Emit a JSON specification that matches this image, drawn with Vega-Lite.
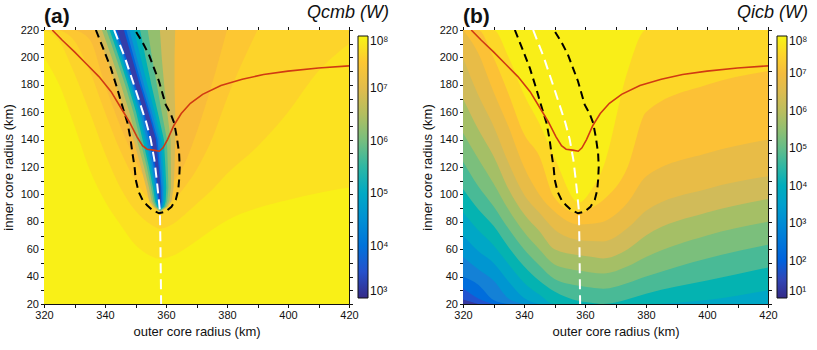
{
"$schema":"https://vega.github.io/schema/vega-lite/v6.json",
"background":"white",
"padding":{"left":2,"top":4,"right":0,"bottom":0},
"spacing":32,
"config":{
 "font":"Liberation Sans",
 "view":{"stroke":null},
 "axis":{"domainColor":"#111","tickColor":"#111","labelColor":"#111","titleColor":"#111","labelFontSize":11,"titleFontSize":13,"titleFontWeight":"normal","grid":false,"tickSize":3.5,"labelPadding":2,"labelFlush":false,"domainWidth":1,"tickWidth":1,"titlePadding":5},
 "legend":{"orient":"none","direction":"vertical","gradientLength":262,"gradientThickness":10,"gradientStrokeColor":"#111","gradientStrokeWidth":1,"labelFontSize":12,"labelOffset":5,"labelColor":"#111","labelBaseline":"middle","titleFontSize":18,"titleFontWeight":"normal","titleFontStyle":"italic","titleColor":"#111","titleAnchor":"end","titleAlign":"right","titlePadding":14,"titleLimit":200},
 "title":{"anchor":"start","fontSize":21,"fontWeight":"bold","offset":-23,"frame":"group","color":"#111"}
},
"datasets":{
 "red":[{"x":322.7,"y":220},{"x":326,"y":212.5},{"x":330,"y":204},{"x":334,"y":195},{"x":338,"y":186},{"x":342,"y":175},{"x":345,"y":164},{"x":348,"y":153},{"x":350.5,"y":142},{"x":352.3,"y":135.5},{"x":353.8,"y":133},{"x":356,"y":132.3},{"x":357.8,"y":131.5},{"x":359,"y":134},{"x":360.5,"y":140},{"x":362.5,"y":150},{"x":365,"y":159},{"x":368,"y":166.5},{"x":372,"y":173},{"x":378,"y":179.5},{"x":385,"y":184},{"x":392,"y":187.5},{"x":400,"y":190},{"x":410,"y":192.3},{"x":420,"y":193.8}],
 "white":[{"i":0,"x":343,"y":220},{"i":1,"x":346.5,"y":200},{"i":2,"x":349.5,"y":180},{"i":3,"x":352,"y":163},{"i":4,"x":353.6,"y":152},{"i":5,"x":355,"y":140},{"i":6,"x":356.2,"y":125},{"i":7,"x":357,"y":110},{"i":8,"x":357.6,"y":97},{"i":9,"x":358,"y":88},{"i":10,"x":358.2,"y":60},{"i":11,"x":358.4,"y":20}],
 "ell":[{"i":0,"x":337,"y":220},{"i":1,"x":339.5,"y":206},{"i":2,"x":341.9,"y":192.3},{"i":3,"x":343.9,"y":178},{"i":4,"x":345.7,"y":164.3},{"i":5,"x":347.4,"y":152},{"i":6,"x":348.4,"y":140},{"i":7,"x":349,"y":130},{"i":8,"x":349.7,"y":120},{"i":9,"x":350.1,"y":110.5},{"i":10,"x":351,"y":102},{"i":11,"x":352.3,"y":96},{"i":12,"x":353.8,"y":92},{"i":13,"x":355.5,"y":88.6},{"i":14,"x":357.7,"y":86.2},{"i":15,"x":359.9,"y":87.4},{"i":16,"x":361.8,"y":91},{"i":17,"x":363.2,"y":96},{"i":18,"x":364,"y":103},{"i":19,"x":364.3,"y":110.5},{"i":20,"x":364.5,"y":120},{"i":21,"x":364.3,"y":130},{"i":22,"x":363.6,"y":141},{"i":23,"x":362.7,"y":152},{"i":24,"x":361.5,"y":159},{"i":25,"x":359.9,"y":165.5},{"i":26,"x":358.8,"y":174},{"i":27,"x":357.7,"y":182.6},{"i":28,"x":356.1,"y":192},{"i":29,"x":354.4,"y":202},{"i":30,"x":352.3,"y":211},{"i":31,"x":350.1,"y":219},{"i":32,"x":349.8,"y":220}],
 "bgA":[
  {"x":320,"y":20,"q":7.95,"s":"a0"},{"x":420,"y":20,"q":7.95,"s":"a0"},
  {"x":320,"y":200,"q":7.8,"s":"a1"},{"x":325,"y":180,"q":7.8,"s":"a1"},{"x":330,"y":150,"q":7.8,"s":"a1"},{"x":335,"y":118,"q":7.8,"s":"a1"},{"x":340,"y":95,"q":7.8,"s":"a1"},{"x":345,"y":78,"q":7.8,"s":"a1"},{"x":350,"y":63,"q":7.8,"s":"a1"},{"x":355,"y":55,"q":7.8,"s":"a1"},{"x":358,"y":53,"q":7.8,"s":"a1"},{"x":362,"y":55,"q":7.8,"s":"a1"},{"x":366,"y":60,"q":7.8,"s":"a1"},{"x":370,"y":66,"q":7.8,"s":"a1"},{"x":375,"y":74,"q":7.8,"s":"a1"},{"x":380,"y":81,"q":7.8,"s":"a1"},{"x":390,"y":90,"q":7.8,"s":"a1"},{"x":400,"y":96,"q":7.8,"s":"a1"},{"x":410,"y":101,"q":7.8,"s":"a1"},{"x":420,"y":105,"q":7.8,"s":"a1"},
  {"x":320,"y":220,"q":7.65,"s":"a2"},{"x":325,"y":212,"q":7.65,"s":"a2"},{"x":330,"y":188,"q":7.65,"s":"a2"},{"x":335,"y":160,"q":7.65,"s":"a2"},{"x":340,"y":130,"q":7.65,"s":"a2"},{"x":345,"y":105,"q":7.65,"s":"a2"},{"x":350,"y":88,"q":7.65,"s":"a2"},{"x":355,"y":78,"q":7.65,"s":"a2"},{"x":358,"y":75,"q":7.65,"s":"a2"},{"x":362,"y":78,"q":7.65,"s":"a2"},{"x":366,"y":85,"q":7.65,"s":"a2"},{"x":370,"y":93,"q":7.65,"s":"a2"},{"x":375,"y":103,"q":7.65,"s":"a2"},{"x":380,"y":115,"q":7.65,"s":"a2"},{"x":390,"y":135,"q":7.65,"s":"a2"},{"x":400,"y":160,"q":7.65,"s":"a2"},{"x":410,"y":190,"q":7.65,"s":"a2"},{"x":420,"y":210,"q":7.65,"s":"a2"},
  {"x":325,"y":220,"q":7.5,"s":"a3"},{"x":330,"y":212,"q":7.5,"s":"a3"},{"x":335,"y":190,"q":7.5,"s":"a3"},{"x":340,"y":160,"q":7.5,"s":"a3"},{"x":345,"y":132,"q":7.5,"s":"a3"},{"x":350,"y":110,"q":7.5,"s":"a3"},{"x":355,"y":95,"q":7.5,"s":"a3"},{"x":358,"y":90,"q":7.5,"s":"a3"},{"x":362,"y":95,"q":7.5,"s":"a3"},{"x":366,"y":105,"q":7.5,"s":"a3"},{"x":370,"y":118,"q":7.5,"s":"a3"},{"x":375,"y":140,"q":7.5,"s":"a3"},{"x":380,"y":170,"q":7.5,"s":"a3"},{"x":390,"y":220,"q":7.5,"s":"a3"},
  {"x":330,"y":220,"q":7.35,"s":"a4"},{"x":335,"y":213,"q":7.35,"s":"a4"},{"x":340,"y":180,"q":7.35,"s":"a4"},{"x":345,"y":150,"q":7.35,"s":"a4"},{"x":350,"y":125,"q":7.35,"s":"a4"},{"x":355,"y":105,"q":7.35,"s":"a4"},{"x":358,"y":100,"q":7.35,"s":"a4"},{"x":362,"y":108,"q":7.35,"s":"a4"},{"x":366,"y":122,"q":7.35,"s":"a4"},{"x":370,"y":145,"q":7.35,"s":"a4"},{"x":375,"y":180,"q":7.35,"s":"a4"},{"x":380,"y":220,"q":7.35,"s":"a4"}
 ],
 "stripeA":[
  {"y":87,"xl":358.05,"xr":358.05,"q":6.75,"s":"t1"},{"y":91,"xl":355.8,"xr":360.6,"q":6.75,"s":"t1"},{"y":95,"xl":354.5,"xr":361.8,"q":6.75,"s":"t1"},{"y":105,"xl":353.5,"xr":362.5,"q":6.75,"s":"t1"},{"y":120,"xl":351.8,"xr":362.8,"q":6.75,"s":"t1"},{"y":140,"xl":349.3,"xr":363,"q":6.75,"s":"t1"},{"y":160,"xl":346.5,"xr":363,"q":6.75,"s":"t1"},{"y":180,"xl":343.5,"xr":362.8,"q":6.75,"s":"t1"},{"y":200,"xl":340.5,"xr":362.8,"q":6.75,"s":"t1"},{"y":220,"xl":337.3,"xr":363,"q":6.75,"s":"t1"},
  {"y":87.7,"xl":358.1,"xr":358.1,"q":6.25,"s":"t2"},{"y":91,"xl":356.3,"xr":360.2,"q":6.25,"s":"t2"},{"y":95,"xl":355.3,"xr":361.1,"q":6.25,"s":"t2"},{"y":105,"xl":354.4,"xr":361.6,"q":6.25,"s":"t2"},{"y":120,"xl":352.8,"xr":361.6,"q":6.25,"s":"t2"},{"y":140,"xl":350.4,"xr":361.5,"q":6.25,"s":"t2"},{"y":160,"xl":348,"xr":360.4,"q":6.25,"s":"t2"},{"y":180,"xl":345.2,"xr":359.4,"q":6.25,"s":"t2"},{"y":200,"xl":342.2,"xr":358.6,"q":6.25,"s":"t2"},{"y":220,"xl":339,"xr":358,"q":6.25,"s":"t2"},
  {"y":88.3,"xl":358.1,"xr":358.1,"q":5.75,"s":"t3"},{"y":91,"xl":356.7,"xr":359.8,"q":5.75,"s":"t3"},{"y":95,"xl":355.9,"xr":360.4,"q":5.75,"s":"t3"},{"y":105,"xl":355.1,"xr":360.8,"q":5.75,"s":"t3"},{"y":120,"xl":353.7,"xr":360.6,"q":5.75,"s":"t3"},{"y":140,"xl":351.5,"xr":360.3,"q":5.75,"s":"t3"},{"y":160,"xl":349.3,"xr":358.6,"q":5.75,"s":"t3"},{"y":180,"xl":346.6,"xr":357,"q":5.75,"s":"t3"},{"y":200,"xl":343.6,"xr":355.4,"q":5.75,"s":"t3"},{"y":220,"xl":340.5,"xr":354,"q":5.75,"s":"t3"},
  {"y":88.8,"xl":358.1,"xr":358.1,"q":5.25,"s":"t4"},{"y":91,"xl":357.1,"xr":359.4,"q":5.25,"s":"t4"},{"y":95,"xl":356.4,"xr":359.9,"q":5.25,"s":"t4"},{"y":105,"xl":355.7,"xr":360.1,"q":5.25,"s":"t4"},{"y":120,"xl":354.4,"xr":359.8,"q":5.25,"s":"t4"},{"y":140,"xl":352.3,"xr":359.3,"q":5.25,"s":"t4"},{"y":160,"xl":350.2,"xr":357.3,"q":5.25,"s":"t4"},{"y":180,"xl":347.5,"xr":355.2,"q":5.25,"s":"t4"},{"y":200,"xl":344.6,"xr":353.3,"q":5.25,"s":"t4"},{"y":220,"xl":341.5,"xr":351.5,"q":5.25,"s":"t4"},
  {"y":89.3,"xl":358.1,"xr":358.1,"q":4.75,"s":"t5"},{"y":91,"xl":357.4,"xr":359,"q":4.75,"s":"t5"},{"y":95,"xl":356.8,"xr":359.4,"q":4.75,"s":"t5"},{"y":105,"xl":356.2,"xr":359.5,"q":4.75,"s":"t5"},{"y":120,"xl":355,"xr":359.1,"q":4.75,"s":"t5"},{"y":140,"xl":353,"xr":358.5,"q":4.75,"s":"t5"},{"y":160,"xl":351,"xr":356.3,"q":4.75,"s":"t5"},{"y":180,"xl":348.2,"xr":353.9,"q":4.75,"s":"t5"},{"y":200,"xl":345.3,"xr":351.7,"q":4.75,"s":"t5"},{"y":220,"xl":342.3,"xr":349.5,"q":4.75,"s":"t5"},
  {"y":89.8,"xl":358.1,"xr":358.1,"q":4.25,"s":"t6"},{"y":91,"xl":357.6,"xr":358.7,"q":4.25,"s":"t6"},{"y":95,"xl":357.2,"xr":359,"q":4.25,"s":"t6"},{"y":105,"xl":356.6,"xr":359,"q":4.25,"s":"t6"},{"y":120,"xl":355.5,"xr":358.5,"q":4.25,"s":"t6"},{"y":140,"xl":353.7,"xr":357.8,"q":4.25,"s":"t6"},{"y":160,"xl":351.7,"xr":355.4,"q":4.25,"s":"t6"},{"y":180,"xl":348.8,"xr":352.8,"q":4.25,"s":"t6"},{"y":200,"xl":345.9,"xr":350.4,"q":4.25,"s":"t6"},{"y":220,"xl":342.9,"xr":348,"q":4.25,"s":"t6"},
  {"y":90.3,"xl":358.1,"xr":358.1,"q":3.75,"s":"t7"},{"y":91,"xl":357.8,"xr":358.4,"q":3.75,"s":"t7"},{"y":95,"xl":357.5,"xr":358.6,"q":3.75,"s":"t7"},{"y":105,"xl":357,"xr":358.5,"q":3.75,"s":"t7"},{"y":120,"xl":356,"xr":358,"q":3.75,"s":"t7"},{"y":140,"xl":354.4,"xr":357.2,"q":3.75,"s":"t7"},{"y":160,"xl":352.3,"xr":354.7,"q":3.75,"s":"t7"},{"y":180,"xl":349.3,"xr":352,"q":3.75,"s":"t7"},{"y":200,"xl":346.4,"xr":349.5,"q":3.75,"s":"t7"},{"y":220,"xl":343.4,"xr":347,"q":3.75,"s":"t7"},
  {"y":92,"xl":358.05,"xr":358.05,"q":3.25,"s":"t8"},{"y":95,"xl":357.8,"xr":358.3,"q":3.25,"s":"t8"},{"y":105,"xl":357.3,"xr":358.2,"q":3.25,"s":"t8"},{"y":120,"xl":356.5,"xr":357.6,"q":3.25,"s":"t8"},{"y":140,"xl":355.1,"xr":356.7,"q":3.25,"s":"t8"},{"y":160,"xl":352.8,"xr":354.2,"q":3.25,"s":"t8"},{"y":180,"xl":349.8,"xr":351.4,"q":3.25,"s":"t8"},{"y":200,"xl":346.9,"xr":348.8,"q":3.25,"s":"t8"},{"y":220,"xl":343.9,"xr":346.2,"q":3.25,"s":"t8"}
 ],
 "bgB":[
  {"x":320,"y":220,"q":7.9,"s":"b00"},{"x":420,"y":220,"q":7.9,"s":"b00"},
  {"x":320,"y":220,"q":7.55,"s":"b01"},{"x":325,"y":220,"q":7.55,"s":"b01"},{"x":330,"y":220,"q":7.55,"s":"b01"},{"x":335,"y":200,"q":7.55,"s":"b01"},{"x":340,"y":173,"q":7.55,"s":"b01"},{"x":345,"y":152,"q":7.55,"s":"b01"},{"x":350,"y":127,"q":7.55,"s":"b01"},{"x":358,"y":94,"q":7.55,"s":"b01"},{"x":362,"y":103,"q":7.55,"s":"b01"},{"x":366,"y":120,"q":7.55,"s":"b01"},{"x":374,"y":190,"q":7.55,"s":"b01"},{"x":380,"y":220,"q":7.55,"s":"b01"},{"x":400,"y":220,"q":7.55,"s":"b01"},{"x":420,"y":220,"q":7.55,"s":"b01"},
  {"x":320,"y":220,"q":7.2,"s":"b02"},{"x":325,"y":220,"q":7.2,"s":"b02"},{"x":330,"y":200,"q":7.2,"s":"b02"},{"x":335,"y":173,"q":7.2,"s":"b02"},{"x":340,"y":144,"q":7.2,"s":"b02"},{"x":345,"y":128,"q":7.2,"s":"b02"},{"x":350,"y":97.5,"q":7.2,"s":"b02"},{"x":358,"y":86,"q":7.2,"s":"b02"},{"x":362,"y":90,"q":7.2,"s":"b02"},{"x":366,"y":96,"q":7.2,"s":"b02"},{"x":374,"y":120,"q":7.2,"s":"b02"},{"x":380,"y":160,"q":7.2,"s":"b02"},{"x":400,"y":180,"q":7.2,"s":"b02"},{"x":420,"y":190,"q":7.2,"s":"b02"},
  {"x":320,"y":220,"q":6.75,"s":"b03"},{"x":325,"y":203,"q":6.75,"s":"b03"},{"x":330,"y":175,"q":6.75,"s":"b03"},{"x":335,"y":149,"q":6.75,"s":"b03"},{"x":340,"y":120,"q":6.75,"s":"b03"},{"x":345,"y":100,"q":6.75,"s":"b03"},{"x":350,"y":87.5,"q":6.75,"s":"b03"},{"x":358,"y":78,"q":6.75,"s":"b03"},{"x":362,"y":78.5,"q":6.75,"s":"b03"},{"x":366,"y":80,"q":6.75,"s":"b03"},{"x":374,"y":94,"q":6.75,"s":"b03"},{"x":380,"y":113,"q":6.75,"s":"b03"},{"x":400,"y":130,"q":6.75,"s":"b03"},{"x":420,"y":140,"q":6.75,"s":"b03"},
  {"x":320,"y":200,"q":6.25,"s":"b04"},{"x":325,"y":172.5,"q":6.25,"s":"b04"},{"x":330,"y":150,"q":6.25,"s":"b04"},{"x":335,"y":122.5,"q":6.25,"s":"b04"},{"x":340,"y":100,"q":6.25,"s":"b04"},{"x":345,"y":86.7,"q":6.25,"s":"b04"},{"x":350,"y":74.3,"q":6.25,"s":"b04"},{"x":358,"y":66.7,"q":6.25,"s":"b04"},{"x":362,"y":66,"q":6.25,"s":"b04"},{"x":366,"y":65.7,"q":6.25,"s":"b04"},{"x":374,"y":75.4,"q":6.25,"s":"b04"},{"x":380,"y":88,"q":6.25,"s":"b04"},{"x":400,"y":104,"q":6.25,"s":"b04"},{"x":420,"y":113.3,"q":6.25,"s":"b04"},
  {"x":320,"y":170,"q":5.75,"s":"b05"},{"x":325,"y":147.5,"q":5.75,"s":"b05"},{"x":330,"y":128,"q":5.75,"s":"b05"},{"x":335,"y":103.6,"q":5.75,"s":"b05"},{"x":340,"y":85.7,"q":5.75,"s":"b05"},{"x":345,"y":73.3,"q":5.75,"s":"b05"},{"x":350,"y":60,"q":5.75,"s":"b05"},{"x":358,"y":55.6,"q":5.75,"s":"b05"},{"x":362,"y":54.5,"q":5.75,"s":"b05"},{"x":366,"y":53.3,"q":5.75,"s":"b05"},{"x":374,"y":60,"q":5.75,"s":"b05"},{"x":380,"y":70,"q":5.75,"s":"b05"},{"x":400,"y":86.7,"q":5.75,"s":"b05"},{"x":420,"y":96.7,"q":5.75,"s":"b05"},
  {"x":320,"y":145,"q":5.25,"s":"b06"},{"x":325,"y":126,"q":5.25,"s":"b06"},{"x":330,"y":108,"q":5.25,"s":"b06"},{"x":335,"y":88.6,"q":5.25,"s":"b06"},{"x":340,"y":72.5,"q":5.25,"s":"b06"},{"x":345,"y":60,"q":5.25,"s":"b06"},{"x":350,"y":48.9,"q":5.25,"s":"b06"},{"x":358,"y":44.4,"q":5.25,"s":"b06"},{"x":362,"y":43,"q":5.25,"s":"b06"},{"x":366,"y":42.2,"q":5.25,"s":"b06"},{"x":374,"y":47.5,"q":5.25,"s":"b06"},{"x":380,"y":54.3,"q":5.25,"s":"b06"},{"x":400,"y":70,"q":5.25,"s":"b06"},{"x":420,"y":80,"q":5.25,"s":"b06"},
  {"x":320,"y":124,"q":4.75,"s":"b07"},{"x":325,"y":106,"q":4.75,"s":"b07"},{"x":330,"y":91.4,"q":4.75,"s":"b07"},{"x":335,"y":74.7,"q":4.75,"s":"b07"},{"x":340,"y":60,"q":4.75,"s":"b07"},{"x":345,"y":48.2,"q":4.75,"s":"b07"},{"x":350,"y":38.2,"q":4.75,"s":"b07"},{"x":358,"y":33.3,"q":4.75,"s":"b07"},{"x":362,"y":32,"q":4.75,"s":"b07"},{"x":366,"y":31.1,"q":4.75,"s":"b07"},{"x":374,"y":35.3,"q":4.75,"s":"b07"},{"x":380,"y":40,"q":4.75,"s":"b07"},{"x":400,"y":53.3,"q":4.75,"s":"b07"},{"x":420,"y":63.3,"q":4.75,"s":"b07"},
  {"x":320,"y":104,"q":4.25,"s":"b08"},{"x":325,"y":89.2,"q":4.25,"s":"b08"},{"x":330,"y":77.1,"q":4.25,"s":"b08"},{"x":335,"y":61.3,"q":4.25,"s":"b08"},{"x":340,"y":47.5,"q":4.25,"s":"b08"},{"x":345,"y":37,"q":4.25,"s":"b08"},{"x":350,"y":29.1,"q":4.25,"s":"b08"},{"x":358,"y":22.2,"q":4.25,"s":"b08"},{"x":362,"y":21,"q":4.25,"s":"b08"},{"x":366,"y":20,"q":4.25,"s":"b08"},{"x":374,"y":23.5,"q":4.25,"s":"b08"},{"x":380,"y":27.5,"q":4.25,"s":"b08"},{"x":400,"y":37.1,"q":4.25,"s":"b08"},{"x":420,"y":46.7,"q":4.25,"s":"b08"},
  {"x":320,"y":86.7,"q":3.75,"s":"b09"},{"x":325,"y":73.8,"q":3.75,"s":"b09"},{"x":330,"y":62.9,"q":3.75,"s":"b09"},{"x":335,"y":48.8,"q":3.75,"s":"b09"},{"x":340,"y":35.6,"q":3.75,"s":"b09"},{"x":345,"y":27,"q":3.75,"s":"b09"},{"x":350,"y":20,"q":3.75,"s":"b09"},{"x":380,"y":20,"q":3.75,"s":"b09"},{"x":400,"y":22.9,"q":3.75,"s":"b09"},{"x":420,"y":30,"q":3.75,"s":"b09"},
  {"x":320,"y":70,"q":3.25,"s":"b10"},{"x":325,"y":58.7,"q":3.25,"s":"b10"},{"x":330,"y":50,"q":3.25,"s":"b10"},{"x":335,"y":36.3,"q":3.25,"s":"b10"},{"x":340,"y":24.4,"q":3.25,"s":"b10"},{"x":345,"y":20,"q":3.25,"s":"b10"},
  {"x":320,"y":54.3,"q":2.75,"s":"b11"},{"x":325,"y":45.3,"q":2.75,"s":"b11"},{"x":330,"y":37.1,"q":2.75,"s":"b11"},{"x":335,"y":23.8,"q":2.75,"s":"b11"},{"x":340,"y":20,"q":2.75,"s":"b11"},
  {"x":320,"y":40,"q":2.25,"s":"b12"},{"x":325,"y":34,"q":2.25,"s":"b12"},{"x":330,"y":22.9,"q":2.25,"s":"b12"},{"x":335,"y":20,"q":2.25,"s":"b12"},
  {"x":320,"y":31.7,"q":1.75,"s":"b13"},{"x":325,"y":24,"q":1.75,"s":"b13"},{"x":330,"y":20,"q":1.75,"s":"b13"},
  {"x":320,"y":23.3,"q":1.25,"s":"b14"},{"x":325,"y":20,"q":1.25,"s":"b14"}
 ]
},
"hconcat":[
 {
  "width":305,"height":274,
  "title":{"text":"(a)"},
  "layer":[
   {"data":{"name":"bgA"},"mark":{"type":"area","interpolate":"monotone","clip":true},
    "encoding":{
     "x":{"field":"x","type":"quantitative","scale":{"domain":[320,420],"nice":false,"zero":false},"axis":{"orient":"bottom","values":[320,330,340,350,360,370,380,390,400,410,420],"labelExpr":"datum.value % 20 === 0 ? datum.label : ''","title":"outer core radius (km)"}},
     "y":{"field":"y","type":"quantitative","stack":null,"scale":{"domain":[20,220],"nice":false,"zero":false},"axis":{"orient":"left","values":[20,30,40,50,60,70,80,90,100,110,120,130,140,150,160,170,180,190,200,210,220],"labelExpr":"datum.value % 20 === 0 ? datum.label : ''","title":"inner core radius (km)"}},
     "y2":{"datum":220},
     "color":{"field":"q","type":"quantitative","scale":{"domain":[3,3.625,4.25,4.875,5.5,6.125,6.75,7.375,8],"range":["#352a87","#0f5cdd","#1481d6","#06a4ca","#2eb7a4","#87bf77","#d1bb59","#fbbc39","#f7f514"],"clamp":true},
      "legend":{"title":"Qcmb (W)","legendX":263,"legendY":-26,"values":[3,4,5,6,7,8],"labelExpr":"'10' + ['⁰','¹','²','³','⁴','⁵','⁶','⁷','⁸'][datum.value]"}},
     "detail":{"field":"s","type":"nominal"}
    }},
   {"data":{"name":"stripeA"},"mark":{"type":"area","orient":"horizontal","clip":true},
    "encoding":{
     "y":{"field":"y","type":"quantitative","axis":null},
     "x":{"field":"xl","type":"quantitative","stack":null,"axis":null},
     "x2":{"field":"xr"},
     "color":{"field":"q","type":"quantitative","scale":{"domain":[3,3.625,4.25,4.875,5.5,6.125,6.75,7.375,8],"range":["#352a87","#0f5cdd","#1481d6","#06a4ca","#2eb7a4","#87bf77","#d1bb59","#fbbc39","#f7f514"],"clamp":true}},
     "detail":{"field":"s","type":"nominal"}
    }},
   {"data":{"name":"white"},"mark":{"type":"line","color":"white","strokeWidth":2,"strokeDash":[10,6],"clip":true},
    "encoding":{"x":{"field":"x","type":"quantitative","axis":null},"y":{"field":"y","type":"quantitative","axis":null},"order":{"field":"i","type":"quantitative"}}},
   {"data":{"name":"ell"},"mark":{"type":"line","color":"black","strokeWidth":2,"strokeDash":[8,5],"clip":true},
    "encoding":{"x":{"field":"x","type":"quantitative","axis":null},"y":{"field":"y","type":"quantitative","axis":null},"order":{"field":"i","type":"quantitative"}}},
   {"data":{"name":"red"},"mark":{"type":"line","color":"#d03a12","strokeWidth":1.6,"clip":true},
    "encoding":{
     "x":{"field":"x","type":"quantitative","axis":{"orient":"top","values":[320,330,340,350,360,370,380,390,400,410,420],"labels":false,"title":null}},
     "y":{"field":"y","type":"quantitative","axis":{"orient":"right","values":[20,30,40,50,60,70,80,90,100,110,120,130,140,150,160,170,180,190,200,210,220],"labels":false,"title":null}}
    }}
  ],
  "resolve":{"axis":{"x":"independent","y":"independent"}}
 },
 {
  "width":305,"height":274,
  "title":{"text":"(b)"},
  "layer":[
   {"data":{"name":"bgB"},"mark":{"type":"area","interpolate":"monotone","clip":true},
    "encoding":{
     "x":{"field":"x","type":"quantitative","scale":{"domain":[320,420],"nice":false,"zero":false},"axis":{"orient":"bottom","values":[320,330,340,350,360,370,380,390,400,410,420],"labelExpr":"datum.value % 20 === 0 ? datum.label : ''","title":"outer core radius (km)"}},
     "y":{"field":"y","type":"quantitative","stack":null,"scale":{"domain":[20,220],"nice":false,"zero":false},"axis":{"orient":"left","values":[20,30,40,50,60,70,80,90,100,110,120,130,140,150,160,170,180,190,200,210,220],"labelExpr":"datum.value % 20 === 0 ? datum.label : ''","title":"inner core radius (km)"}},
     "y2":{"datum":20},
     "color":{"field":"q","type":"quantitative","scale":{"domain":[1,1.875,2.75,3.625,4.5,5.375,6.25,7.125,8],"range":["#352a87","#0f5cdd","#1481d6","#06a4ca","#2eb7a4","#87bf77","#d1bb59","#fbbc39","#f7f514"],"clamp":true},
      "legend":{"title":"Qicb (W)","legendX":274,"legendY":-26,"values":[1,2,3,4,5,6,7,8],"labelExpr":"'10' + ['⁰','¹','²','³','⁴','⁵','⁶','⁷','⁸'][datum.value]"}},
     "detail":{"field":"s","type":"nominal"}
    }},
   {"data":{"name":"white"},"mark":{"type":"line","color":"white","strokeWidth":2,"strokeDash":[10,6],"clip":true},
    "encoding":{"x":{"field":"x","type":"quantitative","axis":null},"y":{"field":"y","type":"quantitative","axis":null},"order":{"field":"i","type":"quantitative"}}},
   {"data":{"name":"ell"},"mark":{"type":"line","color":"black","strokeWidth":2,"strokeDash":[8,5],"clip":true},
    "encoding":{"x":{"field":"x","type":"quantitative","axis":null},"y":{"field":"y","type":"quantitative","axis":null},"order":{"field":"i","type":"quantitative"}}},
   {"data":{"name":"red"},"mark":{"type":"line","color":"#d03a12","strokeWidth":1.6,"clip":true},
    "encoding":{
     "x":{"field":"x","type":"quantitative","axis":{"orient":"top","values":[320,330,340,350,360,370,380,390,400,410,420],"labels":false,"title":null}},
     "y":{"field":"y","type":"quantitative","axis":{"orient":"right","values":[20,30,40,50,60,70,80,90,100,110,120,130,140,150,160,170,180,190,200,210,220],"labels":false,"title":null}}
    }}
  ],
  "resolve":{"axis":{"x":"independent","y":"independent"}}
 }
],
"resolve":{"scale":{"color":"independent","x":"independent","y":"independent"},"legend":{"color":"independent"}}
}
